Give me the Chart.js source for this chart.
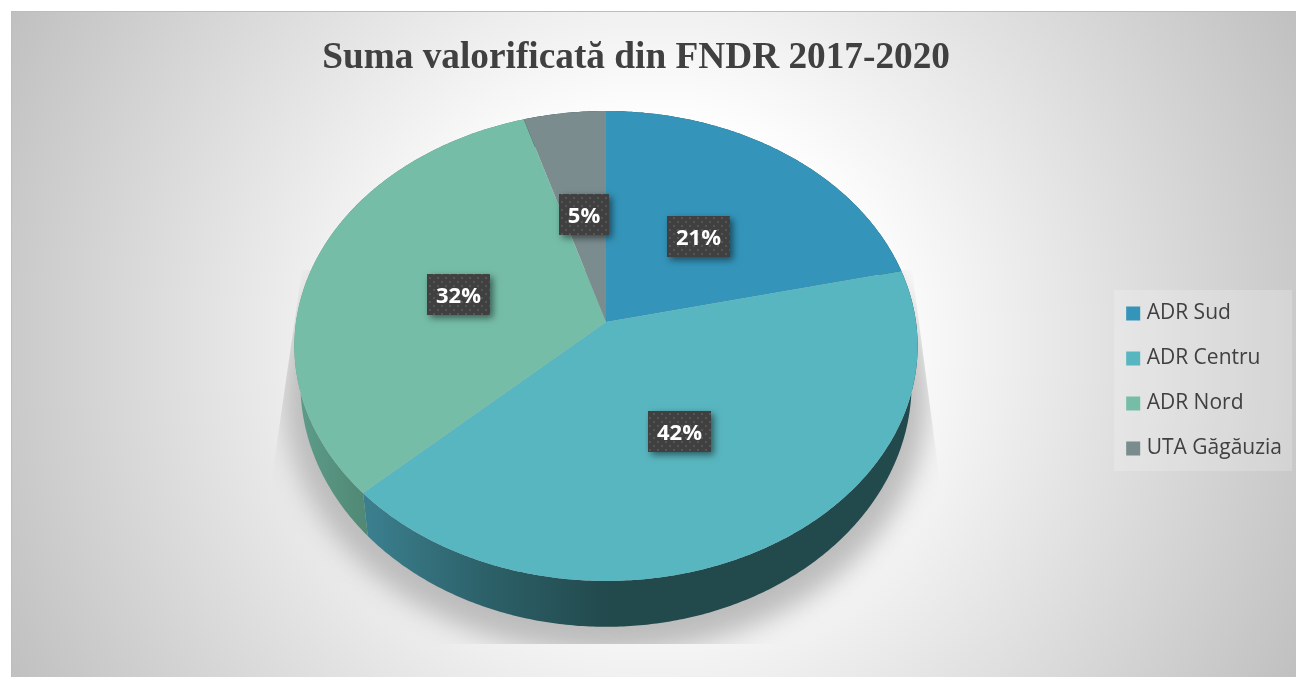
<!DOCTYPE html>
<html>
<head>
<meta charset="utf-8">
<title>Suma valorificată din FNDR 2017-2020</title>
<script src="https://cdn.jsdelivr.net/npm/chart.js@4"></script>
<style>
  html,body{margin:0;padding:0;background:#fff;}
  canvas{display:block;}
</style>
</head>
<body>
<canvas id="pieChart" width="1296" height="677"></canvas>
<script>
const chartTitle='Suma valorificată din FNDR 2017-2020';
const categories=['ADR Sud','ADR Centru','ADR Nord','UTA Găgăuzia'];
const shares=[21.4,41.6,32.3,4.7];
const sliceColors=['#3494BA','#58B6C0','#75BDA7','#7A8C8E'];
const labelNudgeX=[0,-3,0,0];

// the reference is a tilted 3D pie: top and bottom face are the library's arcs seen in perspective
const tilt=0.102;
const topFace={cx:606,cy:322,rx:310,ry:232.5};
const bottomFace={cx:606,cy:359,rx:304,ry:240.5};
const panel={x:11,y:11,w:1285,h:666};

function project(face,angle,r){
  const u=Math.cos(angle)*r, v=-Math.sin(angle)*r;
  const w=1+tilt*v;
  return {x:face.cx+face.rx*u/w, y:face.cy-face.ry*v/w};
}
function traceArc(ctx,face,a0,a1){
  const n=Math.max(2,Math.ceil(Math.abs(a1-a0)/0.01));
  for(let i=0;i<=n;i++){
    const p=project(face,a0+(a1-a0)*i/n,1);
    ctx.lineTo(p.x,p.y);
  }
}
function wallFill(ctx,i){
  if(i===1){
    const g=ctx.createLinearGradient(368,0,610,0);
    g.addColorStop(0,'#3b7f8e');
    g.addColorStop(0.5,'#2c6068');
    g.addColorStop(1,'#22494c');
    return g;
  }
  if(i===2){
    const g=ctx.createLinearGradient(300,0,370,0);
    g.addColorStop(0,'#5d9b88');
    g.addColorStop(1,'#4f8874');
    return g;
  }
  return '#22494c';
}

const panelBackground={
  id:'panelBackground',
  beforeDraw(chart){
    const ctx=chart.ctx;
    ctx.save();
    ctx.beginPath();
    ctx.rect(panel.x,panel.y,panel.w,panel.h);
    ctx.clip();
    const mx=panel.x+panel.w/2, my=panel.y+panel.h/2;
    const g=ctx.createRadialGradient(mx,my,0,mx,my,Math.hypot(panel.w,panel.h)/2);
    g.addColorStop(0,'#ffffff');
    g.addColorStop(0.3,'#ffffff');
    g.addColorStop(1,'#c0c0c0');
    ctx.fillStyle=g;
    ctx.fillRect(panel.x,panel.y,panel.w,panel.h);
    ctx.restore();
    ctx.strokeStyle='#bdbdbd';
    ctx.lineWidth=1;
    ctx.beginPath();
    ctx.moveTo(panel.x+0.5,panel.y+panel.h);
    ctx.lineTo(panel.x+0.5,panel.y+0.5);
    ctx.lineTo(panel.x+panel.w,panel.y+0.5);
    ctx.stroke();
    // legend backing
    const first=chart.legend.legendHitBoxes[0];
    ctx.fillStyle='rgba(255,255,255,0.2)';
    ctx.fillRect(first.left-16,first.top-13,178,181);
  }
};

const pie3d={
  id:'pie3d',
  beforeDatasetDraw(chart,args){
    const ctx=chart.ctx;
    const arcs=chart.getDatasetMeta(args.index).data;
    // cast shadow, cut by the perspective wedge like the original
    ctx.save();
    ctx.beginPath();
    ctx.moveTo(302,270);
    ctx.lineTo(272,477);
    ctx.lineTo(272,644);
    ctx.lineTo(942,644);
    ctx.lineTo(941,490);
    ctx.lineTo(912,270);
    ctx.closePath();
    ctx.clip();
    ctx.filter='blur(13px)';
    ctx.fillStyle='#bcbcbc';
    ctx.beginPath();
    ctx.ellipse(606,398,322,256,0,0,Math.PI*2);
    ctx.fill();
    ctx.restore();
    // side walls
    arcs.forEach((arc,i)=>{
      ctx.fillStyle=wallFill(ctx,i);
      ctx.beginPath();
      traceArc(ctx,topFace,arc.startAngle,arc.endAngle);
      traceArc(ctx,bottomFace,arc.endAngle,arc.startAngle);
      ctx.closePath();
      ctx.fill();
    });
    // top face
    arcs.forEach((arc,i)=>{
      ctx.fillStyle=sliceColors[i];
      ctx.beginPath();
      ctx.moveTo(topFace.cx,topFace.cy);
      traceArc(ctx,topFace,arc.startAngle,arc.endAngle);
      ctx.closePath();
      ctx.fill();
    });
    return false;
  }
};

function dotPattern(ctx){
  const c=document.createElement('canvas');
  c.width=8;c.height=8;
  const p=c.getContext('2d');
  p.fillStyle='#404040';
  p.fillRect(0,0,8,8);
  p.fillStyle='#555555';
  p.fillRect(1,1,2,2);
  p.fillRect(5,5,2,2);
  return ctx.createPattern(c,'repeat');
}

const percentLabels={
  id:'percentLabels',
  afterDatasetsDraw(chart){
    const ctx=chart.ctx;
    const arcs=chart.getDatasetMeta(0).data;
    const pattern=dotPattern(ctx);
    ctx.save();
    ctx.font='bold 22px "Open Sans"';
    ctx.textAlign='center';
    ctx.textBaseline='middle';
    arcs.forEach((arc,i)=>{
      const mid=(arc.startAngle+arc.endAngle)/2;
      const p=project(topFace,mid,0.5);
      const text=Math.round(shares[i])+'%';
      const w=Math.round(ctx.measureText(text).width)+18;
      const h=41;
      const x=Math.round(p.x+labelNudgeX[i]-w/2), y=Math.round(p.y+2-h/2);
      ctx.save();
      ctx.shadowColor='rgba(0,0,0,0.5)';
      ctx.shadowBlur=7;
      ctx.shadowOffsetX=3;
      ctx.shadowOffsetY=3;
      ctx.fillStyle='#404040';
      ctx.fillRect(x,y,w,h);
      ctx.restore();
      ctx.fillStyle=pattern;
      ctx.fillRect(x,y,w,h);
      ctx.fillStyle='#ffffff';
      ctx.fillText(text,x+w/2,y+h/2+2);
    });
    ctx.restore();
  }
};

new Chart(document.getElementById('pieChart'),{
  type:'pie',
  data:{
    labels:categories,
    datasets:[{
      data:shares,
      backgroundColor:sliceColors,
      borderColor:sliceColors,
      borderWidth:8
    }]
  },
  options:{
    responsive:false,
    animation:false,
    layout:{padding:{left:166,right:4,top:0,bottom:194}},
    plugins:{
      tooltip:{enabled:false},
      title:{
        display:true,
        fullSize:false,
        text:chartTitle,
        color:'#404040',
        font:{family:'"Liberation Serif"',size:37.3,weight:'bold'},
        padding:{top:36,bottom:5}
      },
      legend:{
        position:'right',
        align:'end',
        labels:{
          color:'#404040',
          font:{family:'"Open Sans"',size:21},
          boxWidth:6,
          boxHeight:6,
          padding:24
        }
      }
    }
  },
  plugins:[panelBackground,pie3d,percentLabels]
});
</script>
</body>
</html>
